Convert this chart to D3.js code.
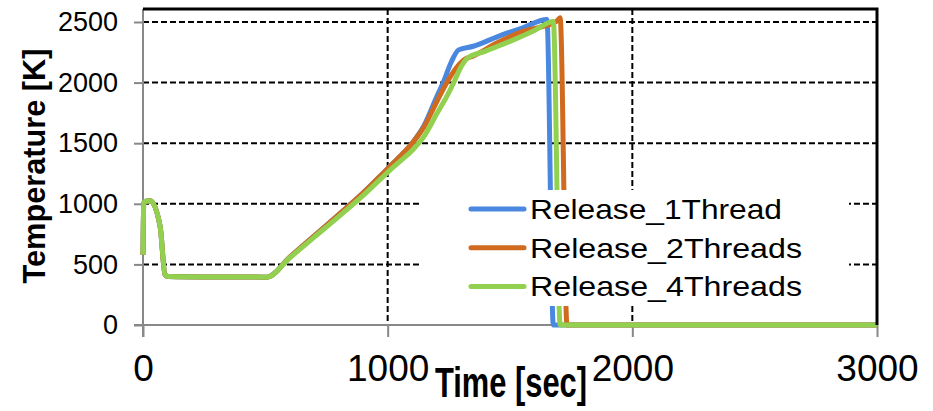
<!DOCTYPE html>
<html>
<head>
<meta charset="utf-8">
<script src="https://cdn.jsdelivr.net/npm/d3@7"></script>
<style>
  body { margin: 0; background: #fff; }
  text { font-family: "Liberation Sans", Arial, sans-serif; fill: #000; }
</style>
</head>
<body>
<div id="chart"></div>
<script>
// data: [time (s), temperature (K)]
const seriesNames = ['Release_1Thread', 'Release_2Threads', 'Release_4Threads'];
const seriesColors = ['#4a88e0', '#d06a1e', '#92d050'];

const release1 = [
  [0, 580], [3, 1000], [8, 1020], [30, 1025], [70, 812], [90, 415], [104, 400],
  [300, 396], [506, 395], [600, 560], [700, 735], [800, 910], [900, 1090],
  [1000, 1290], [1050, 1390], [1100, 1500], [1150, 1650], [1200, 1880],
  [1227, 2000], [1260, 2170], [1290, 2270], [1350, 2300], [1450, 2380],
  [1550, 2450], [1651, 2520], [1677, 0], [3000, 0]
];
const release2 = [
  [0, 580], [3, 1000], [8, 1020], [30, 1025], [70, 812], [90, 415], [104, 400],
  [300, 396], [506, 395], [600, 560], [700, 735], [800, 910], [900, 1090],
  [1000, 1290], [1050, 1390], [1100, 1500], [1150, 1640], [1200, 1840],
  [1242, 2000], [1280, 2120], [1310, 2185], [1350, 2220], [1450, 2330],
  [1550, 2420], [1690, 2505], [1705, 2535], [1733, 0], [3000, 0]
];
const release4 = [
  [0, 580], [3, 1000], [8, 1020], [30, 1025], [70, 812], [90, 415], [104, 400],
  [300, 396], [506, 395], [600, 555], [700, 725], [800, 895], [900, 1070],
  [1000, 1260], [1050, 1350], [1100, 1440], [1150, 1560], [1200, 1740],
  [1240, 1880], [1270, 2000], [1300, 2130], [1325, 2200], [1400, 2260],
  [1500, 2340], [1600, 2430], [1677, 2505], [1705, 0], [3000, 0]
];
const xTicks = [0, 1000, 2000, 3000];
const yTicks = [0, 500, 1000, 1500, 2000, 2500];

const width = 933, height = 411;
const x = d3.scaleLinear().domain([0, 3000]).range([143, 877]);
const y = d3.scaleLinear().domain([0, 2500]).range([325, 22]);
const plotTop = 9;

const svg = d3.select('#chart').append('svg')
  .attr('width', width)
  .attr('height', height);

// grid lines
svg.append('g').selectAll('line')
  .data(yTicks.filter((d) => d > 0))
  .join('line')
  .attr('x1', x(0)).attr('x2', x(3000))
  .attr('y1', (d) => y(d)).attr('y2', (d) => y(d))
  .attr('stroke', '#000').attr('stroke-width', 2)
  .attr('stroke-dasharray', '6,3');

svg.append('g').selectAll('line')
  .data(xTicks.filter((d) => d > 0 && d < 3000))
  .join('line')
  .attr('x1', (d) => x(d)).attr('x2', (d) => x(d))
  .attr('y1', plotTop).attr('y2', y(0))
  .attr('stroke', '#000').attr('stroke-width', 2)
  .attr('stroke-dasharray', '6,3');

// axes
const yAxis = svg.append('g')
  .attr('transform', `translate(${x(0)},0)`)
  .call(d3.axisLeft(y).tickValues(yTicks).tickFormat(d3.format('d'))
    .tickSize(9).tickPadding(16).tickSizeOuter(0));
yAxis.select('.domain').attr('d', `M0,${plotTop}V${y(0) + 12}`);
yAxis.selectAll('path, line').attr('stroke', '#888').attr('stroke-width', 2);
yAxis.selectAll('text')
  .style('font-size', '27px')
  .style('font-family', '"Liberation Sans", Arial, sans-serif')
  .attr('fill', '#000');

const xAxis = svg.append('g')
  .attr('transform', `translate(0,${y(0)})`)
  .call(d3.axisBottom(x).tickValues(xTicks).tickFormat(d3.format('d'))
    .tickSize(12).tickPadding(18).tickSizeOuter(0));
xAxis.select('.domain').attr('d', `M${x(0) - 9},0H${x(3000)}`);
xAxis.selectAll('path, line').attr('stroke', '#888').attr('stroke-width', 2);
xAxis.selectAll('text')
  .style('font-size', '37px')
  .style('font-family', '"Liberation Sans", Arial, sans-serif')
  .attr('fill', '#000');

// series
const line = d3.line()
  .x((d) => x(d[0]))
  .y((d) => y(d[1]))
  .curve(d3.curveMonotoneX);

[release1, release2, release4].forEach((data, i) => {
  svg.append('path')
    .datum(data)
    .attr('fill', 'none')
    .attr('stroke', seriesColors[i])
    .attr('stroke-width', 5)
    .attr('stroke-linejoin', 'round')
    .attr('d', line);
});

// plot border (top and right)
svg.append('path')
  .attr('d', `M${x(0)},${plotTop}H${x(3000)}V${y(0)}`)
  .attr('fill', 'none')
  .attr('stroke', '#000')
  .attr('stroke-width', 3);

// legend
const legend = svg.append('g');
legend.append('rect')
  .attr('x', 421).attr('y', 190)
  .attr('width', 428).attr('height', 116)
  .attr('fill', '#fff');

seriesNames.forEach((name, i) => {
  const cy = 209 + i * 38.7;
  legend.append('line')
    .attr('x1', 471).attr('x2', 524)
    .attr('y1', cy).attr('y2', cy)
    .attr('stroke', seriesColors[i])
    .attr('stroke-width', 5)
    .attr('stroke-linecap', 'round');
  legend.append('text')
    .attr('x', 530).attr('y', cy + 10)
    .attr('textLength', i === 0 ? 252 : 272)
    .attr('lengthAdjust', 'spacingAndGlyphs')
    .style('font-size', '28px')
    .text(name);
});

// axis titles
svg.append('text')
  .attr('transform', 'translate(45,166) rotate(-90)')
  .attr('text-anchor', 'middle')
  .attr('textLength', 235)
  .attr('lengthAdjust', 'spacingAndGlyphs')
  .style('font-size', '31px')
  .style('font-weight', 'bold')
  .text('Temperature [K]');

svg.append('text')
  .attr('transform', 'translate(511,397) scale(1,1.4)')
  .attr('text-anchor', 'middle')
  .attr('textLength', 152)
  .attr('lengthAdjust', 'spacingAndGlyphs')
  .style('font-size', '31px')
  .style('font-weight', 'bold')
  .text('Time [sec]');
</script>
</body>
</html>
